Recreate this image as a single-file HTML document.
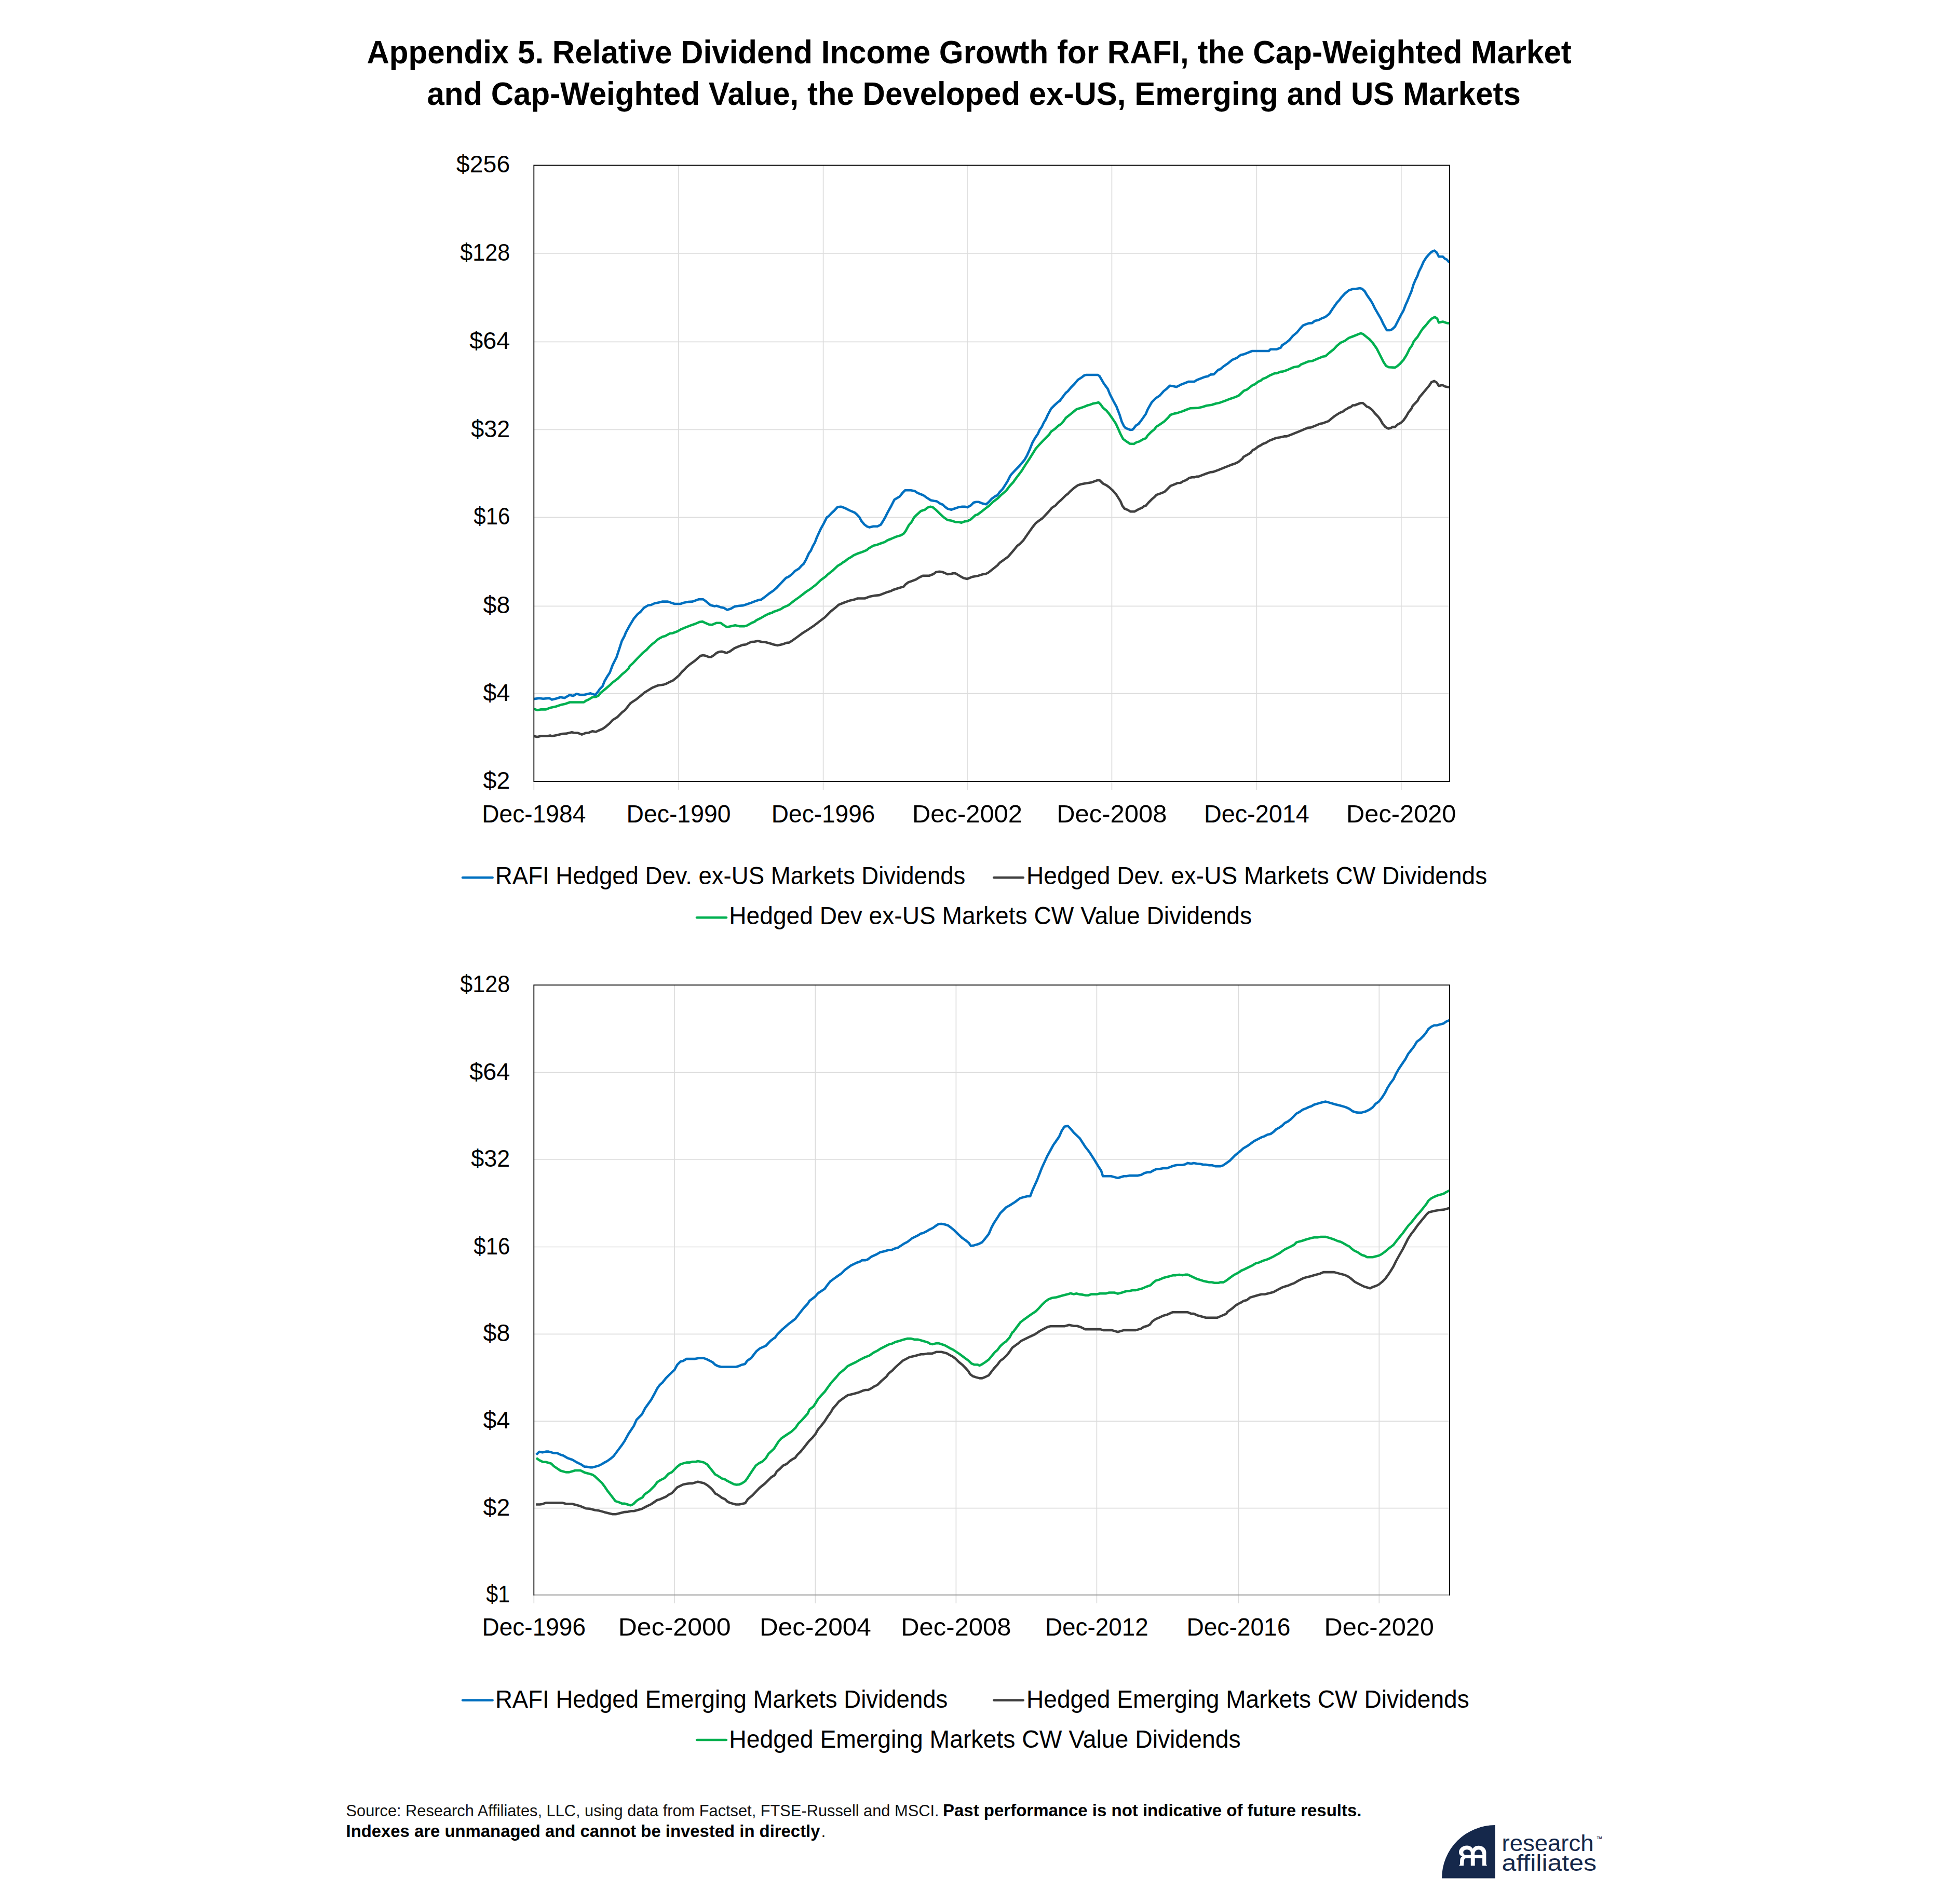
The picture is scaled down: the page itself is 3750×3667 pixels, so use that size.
<!DOCTYPE html>
<html lang="en"><head><meta charset="utf-8"><title>Appendix 5. Relative Dividend Income Growth</title>
<style>
html,body{margin:0;padding:0;background:#fff;}
body{width:3750px;height:3667px;overflow:hidden;}
svg{display:block;font-family:'Liberation Sans', Arial, sans-serif;}
</style></head><body>
<svg width="3750" height="3667" viewBox="0 0 3750 3667">
<rect width="3750" height="3667" fill="#fff"/>
<g font-size="62.5" font-weight="bold" fill="#000">
<text x="706.4" y="122" textLength="2320.5" lengthAdjust="spacingAndGlyphs">Appendix 5. Relative Dividend Income Growth for RAFI, the Cap-Weighted Market</text>
<text x="822.4" y="201.5" textLength="2106.5" lengthAdjust="spacingAndGlyphs">and Cap-Weighted Value, the Developed ex-US, Emerging and US Markets</text>
</g>
<path d="M1028.3,488.0H2790.5M1028.3,658.3H2790.5M1028.3,827.5H2790.5M1028.3,996.3H2790.5M1028.3,1167.3H2790.5M1028.3,1335.6H2790.5M1028.3,1505V1521M1307.0,318.3V1521M1585.6,318.3V1521M1863.0,318.3V1521M2141.4,318.3V1521M2420.3,318.3V1521M2698.8,318.3V1521" stroke="#dcdcdc" stroke-width="1.7" fill="none"/>
<g fill="none" stroke-width="4.6" stroke-linejoin="round" stroke-linecap="butt">
<path d="M1028.5,1417.7 L1034.7,1419.3 L1041.1,1417.7 L1053.9,1417.7 L1059.6,1416.5 L1062.9,1417.7 L1071.9,1415.9 L1082.2,1413.4 L1089.9,1412.9 L1101.4,1410.3 L1105.3,1411.3 L1113.0,1411.6 L1120.7,1414.7 L1128.4,1411.6 L1133.5,1411.3 L1141.2,1408.2 L1147.7,1409.5 L1152.8,1407.0 L1160.5,1403.9 L1166.9,1399.3 L1174.6,1392.8 L1179.8,1386.9 L1188.8,1381.3 L1197.7,1372.3 L1204.2,1367.2 L1209.3,1360.7 L1214.4,1354.3 L1218.3,1351.7 L1226.0,1346.6 L1233.7,1340.2 L1241.4,1333.8 L1247.8,1329.9 L1256.8,1324.3 L1267.1,1320.2 L1278.6,1318.4 L1282.5,1317.1 L1290.2,1313.2 L1295.3,1311.2 L1303.0,1305.0 L1308.2,1300.4 L1313.3,1294.0 L1318.4,1289.3 L1322.3,1285.0 L1330.0,1278.6 L1339.0,1272.1 L1344.1,1267.5 L1349.3,1263.1 L1354.4,1261.9 L1359.5,1263.1 L1364.7,1265.2 L1369.8,1265.2 L1374.9,1261.9 L1380.1,1257.5 L1385.2,1255.4 L1390.3,1254.7 L1399.3,1257.5 L1405.8,1254.7 L1414.7,1248.3 L1422.4,1245.2 L1430.1,1242.1 L1436.6,1241.3 L1446.8,1236.2 L1453.3,1235.7 L1459.7,1234.4 L1467.4,1236.2 L1475.1,1237.0 L1487.9,1240.5 L1488.5,1241.1 L1497.5,1242.9 L1506.5,1241.1 L1515.5,1237.8 L1519.3,1237.8 L1525.8,1233.9 L1534.7,1227.5 L1545.0,1219.8 L1555.3,1213.4 L1566.8,1205.7 L1578.4,1196.7 L1588.7,1189.0 L1593.8,1183.8 L1600.2,1177.4 L1609.2,1170.2 L1615.6,1164.6 L1627.2,1160.0 L1637.5,1156.4 L1645.2,1154.8 L1651.6,1152.5 L1665.7,1152.5 L1676.0,1148.7 L1685.0,1147.1 L1694.0,1146.1 L1709.4,1140.2 L1715.8,1138.4 L1719.6,1136.3 L1731.2,1132.5 L1740.2,1129.9 L1744.0,1125.6 L1749.2,1121.7 L1756.9,1118.9 L1764.6,1115.8 L1771.0,1111.9 L1777.4,1108.9 L1790.3,1108.6 L1798.0,1105.5 L1803.1,1101.7 L1808.2,1100.9 L1813.4,1101.2 L1818.5,1103.0 L1824.9,1106.0 L1831.4,1105.5 L1835.2,1104.2 L1840.3,1104.2 L1848.0,1108.9 L1855.8,1113.2 L1862.7,1115.0 L1868.6,1112.7 L1873.7,1110.7 L1884.0,1108.9 L1893.0,1106.0 L1898.1,1105.5 L1903.3,1103.0 L1912.2,1096.0 L1921.2,1088.8 L1925.1,1084.2 L1932.8,1078.6 L1941.8,1072.1 L1953.9,1057.9 L1959.1,1051.4 L1964.2,1047.6 L1970.6,1041.2 L1979.6,1028.3 L1988.6,1015.5 L1995.0,1007.3 L2001.4,1002.6 L2007.9,998.0 L2018.1,987.2 L2025.8,978.2 L2033.5,973.1 L2037.4,968.5 L2042.5,964.1 L2052.8,953.8 L2056.7,951.3 L2060.5,946.9 L2068.2,940.2 L2075.9,934.6 L2082.3,932.5 L2087.5,931.5 L2102.9,928.9 L2113.1,925.1 L2117.8,924.8 L2124.7,931.5 L2131.1,934.6 L2136.3,938.4 L2142.7,944.1 L2150.4,953.1 L2158.1,965.4 L2161.9,974.4 L2165.8,979.5 L2172.2,982.1 L2177.3,985.2 L2185.1,985.2 L2194.0,980.3 L2199.2,978.2 L2204.3,974.4 L2206.9,973.9 L2212.0,968.0 L2218.4,961.6 L2223.6,957.2 L2227.4,953.1 L2233.8,950.8 L2242.8,947.4 L2248.0,942.3 L2254.4,935.9 L2262.1,932.8 L2268.5,930.2 L2273.7,930.0 L2278.8,926.9 L2285.2,924.3 L2290.3,920.5 L2295.5,919.2 L2300.6,919.2 L2304.5,917.9 L2308.3,917.9 L2316.0,914.8 L2323.7,912.0 L2331.4,909.4 L2336.6,908.9 L2346.8,905.1 L2359.7,899.9 L2371.2,895.3 L2378.9,892.7 L2385.4,889.6 L2393.1,883.2 L2394.9,879.9 L2403.9,875.0 L2409.1,871.7 L2412.9,866.6 L2416.8,865.3 L2423.2,860.1 L2428.3,857.6 L2432.2,855.0 L2437.3,853.2 L2445.0,848.6 L2457.9,843.5 L2465.6,842.2 L2473.3,840.4 L2478.4,840.4 L2488.7,836.3 L2504.1,830.1 L2519.5,823.7 L2524.6,823.4 L2532.3,820.3 L2542.6,816.0 L2547.7,815.2 L2559.3,810.8 L2564.4,806.2 L2570.9,801.1 L2579.8,795.4 L2587.5,792.1 L2590.1,789.5 L2595.2,787.0 L2597.8,784.9 L2601.7,783.9 L2605.5,780.5 L2609.4,780.5 L2617.1,777.5 L2620.9,776.2 L2624.8,776.2 L2628.6,779.3 L2632.5,783.1 L2636.3,784.4 L2642.8,789.5 L2647.9,795.9 L2654.3,802.4 L2658.2,807.5 L2663.3,816.5 L2668.4,822.4 L2674.1,825.5 L2678.7,824.2 L2682.6,822.1 L2686.9,822.4 L2691.6,817.8 L2698.0,814.4 L2703.1,809.6 L2708.2,802.4 L2712.6,794.7 L2718.5,787.0 L2721.1,781.3 L2730.1,772.1 L2733.9,765.1 L2741.6,756.1 L2748.0,748.4 L2753.2,742.0 L2757.0,736.1 L2762.2,733.8 L2767.3,736.9 L2771.2,743.3 L2776.3,742.0 L2778.9,742.0 L2784.0,744.6 L2791.7,745.9" stroke="#404040"/>
<path d="M1028.5,1365.4 L1034.7,1367.7 L1041.1,1366.4 L1051.4,1366.4 L1059.1,1363.3 L1070.6,1360.7 L1082.2,1356.9 L1087.3,1356.1 L1097.6,1352.5 L1124.6,1352.5 L1128.4,1349.7 L1133.5,1347.4 L1141.2,1342.8 L1147.7,1342.2 L1152.8,1339.7 L1156.7,1334.5 L1166.9,1326.1 L1174.6,1319.6 L1179.8,1314.5 L1190.0,1306.8 L1197.7,1299.1 L1205.4,1292.7 L1210.6,1287.5 L1213.1,1282.4 L1218.3,1278.0 L1228.6,1267.0 L1238.8,1256.7 L1245.2,1251.6 L1250.4,1245.9 L1256.8,1240.0 L1261.9,1236.2 L1265.8,1232.3 L1269.6,1229.8 L1276.1,1226.2 L1281.2,1225.1 L1290.2,1220.0 L1295.3,1219.5 L1304.3,1216.2 L1312.0,1211.8 L1319.7,1208.7 L1331.3,1204.1 L1339.0,1201.5 L1348.0,1197.7 L1353.1,1197.1 L1359.5,1200.2 L1365.9,1202.8 L1371.1,1203.3 L1380.1,1199.7 L1387.8,1199.7 L1394.2,1204.1 L1400.1,1207.7 L1408.3,1206.1 L1416.0,1204.3 L1423.7,1206.1 L1434.0,1206.1 L1439.1,1204.6 L1448.1,1199.5 L1453.3,1197.4 L1457.1,1194.3 L1464.8,1190.7 L1472.5,1186.1 L1480.2,1182.3 L1487.9,1179.7 L1488.5,1178.7 L1496.2,1176.1 L1503.9,1173.1 L1509.1,1169.7 L1518.1,1165.9 L1523.2,1162.0 L1529.6,1156.9 L1538.6,1150.5 L1546.3,1144.6 L1552.7,1139.7 L1561.7,1133.8 L1570.7,1126.8 L1581.0,1117.1 L1590.0,1110.7 L1593.8,1106.8 L1604.1,1098.6 L1613.1,1090.1 L1619.5,1086.3 L1624.6,1082.4 L1627.2,1081.1 L1633.6,1076.0 L1640.0,1072.4 L1643.9,1069.6 L1652.9,1065.7 L1660.6,1063.1 L1669.6,1059.3 L1673.4,1056.0 L1682.4,1050.8 L1687.5,1049.8 L1696.5,1046.5 L1704.2,1043.9 L1709.4,1040.5 L1717.1,1037.5 L1726.1,1033.6 L1735.1,1031.0 L1740.2,1028.0 L1744.0,1023.3 L1750.5,1011.3 L1755.6,1005.4 L1760.7,996.4 L1765.9,991.2 L1773.6,984.3 L1781.3,981.7 L1786.4,977.6 L1791.6,975.8 L1796.7,977.1 L1803.1,982.3 L1809.5,988.7 L1817.2,995.9 L1824.9,1001.5 L1832.6,1002.8 L1840.3,1005.4 L1846.8,1005.4 L1851.9,1006.7 L1858.3,1004.1 L1863.5,1003.6 L1869.9,1000.2 L1878.9,992.0 L1882.7,991.2 L1890.4,985.3 L1898.1,979.2 L1905.8,973.3 L1912.2,966.8 L1922.5,959.1 L1928.9,952.7 L1937.9,945.0 L1944.9,935.9 L1951.4,928.9 L1956.5,921.7 L1960.3,916.6 L1968.1,906.3 L1974.5,896.1 L1982.2,884.5 L1988.6,874.2 L1995.0,864.0 L2001.4,856.8 L2009.1,848.6 L2020.7,837.0 L2024.6,831.1 L2031.0,826.7 L2038.7,819.8 L2043.8,816.5 L2048.9,810.5 L2052.8,804.9 L2061.8,797.7 L2065.6,794.6 L2073.3,788.2 L2079.8,786.2 L2087.5,783.6 L2095.2,780.5 L2099.0,779.7 L2105.4,777.2 L2111.9,776.1 L2115.7,774.9 L2119.6,778.7 L2124.7,785.6 L2131.1,790.8 L2135.0,795.4 L2142.7,806.2 L2149.1,815.7 L2153.0,824.2 L2158.1,835.7 L2163.2,845.5 L2168.4,849.3 L2176.1,854.5 L2183.8,855.0 L2188.9,851.9 L2194.0,850.4 L2201.7,846.0 L2206.9,844.2 L2210.7,838.3 L2217.2,831.9 L2223.6,826.7 L2227.4,821.6 L2233.8,817.7 L2242.8,811.3 L2249.3,804.9 L2254.4,799.0 L2262.1,796.4 L2265.9,795.9 L2277.5,792.1 L2285.2,789.0 L2292.9,786.2 L2308.3,785.6 L2316.0,783.8 L2323.7,781.3 L2334.0,779.7 L2341.7,777.2 L2348.1,776.1 L2350.0,775.4 L2360.3,771.6 L2370.5,767.7 L2378.2,765.1 L2386.0,761.8 L2396.2,752.3 L2401.4,750.5 L2412.9,741.5 L2416.8,740.2 L2423.2,735.1 L2428.3,733.0 L2432.2,729.7 L2437.3,727.9 L2446.3,722.8 L2455.3,718.9 L2459.1,718.9 L2466.8,715.8 L2470.7,715.6 L2478.4,713.0 L2491.2,707.3 L2501.5,705.6 L2505.4,702.2 L2519.5,696.3 L2527.2,695.3 L2540.0,689.9 L2547.7,686.8 L2552.9,686.0 L2560.6,679.1 L2568.3,673.2 L2574.7,666.3 L2582.4,659.8 L2590.1,656.5 L2597.8,650.9 L2606.8,647.5 L2615.8,643.9 L2620.9,641.9 L2624.8,643.1 L2631.2,648.3 L2637.6,653.4 L2644.0,660.4 L2651.7,671.4 L2658.2,684.2 L2664.6,697.1 L2669.7,704.8 L2674.9,707.3 L2686.9,707.9 L2691.6,704.8 L2696.7,700.4 L2703.1,693.2 L2709.5,683.0 L2714.7,672.2 L2719.8,665.0 L2722.4,658.6 L2726.2,653.4 L2730.1,649.1 L2735.2,640.6 L2740.3,632.9 L2746.8,625.9 L2751.9,619.5 L2757.0,614.1 L2763.5,610.5 L2768.1,613.6 L2771.2,621.3 L2778.9,619.5 L2786.6,622.1 L2791.7,622.6" stroke="#00b050"/>
<path d="M1028.5,1346.1 L1038.5,1344.8 L1046.2,1345.8 L1057.8,1344.6 L1062.9,1347.4 L1071.9,1345.3 L1079.6,1342.8 L1087.3,1344.3 L1097.1,1338.6 L1104.0,1340.2 L1110.4,1336.3 L1118.1,1338.4 L1125.8,1338.1 L1137.4,1335.3 L1146.4,1338.4 L1151.5,1332.5 L1155.4,1326.8 L1160.5,1321.7 L1164.4,1311.9 L1169.5,1303.0 L1174.6,1295.2 L1179.8,1281.1 L1187.5,1265.7 L1192.6,1250.3 L1197.7,1234.4 L1202.9,1224.6 L1205.4,1218.2 L1213.1,1204.1 L1220.9,1191.2 L1228.6,1182.3 L1233.7,1178.4 L1240.1,1170.7 L1247.8,1166.1 L1254.2,1165.0 L1260.7,1162.0 L1268.4,1160.4 L1276.1,1158.6 L1286.3,1158.6 L1292.8,1160.9 L1299.2,1163.0 L1310.7,1163.0 L1318.4,1160.4 L1326.1,1159.1 L1333.8,1158.6 L1345.4,1154.3 L1354.4,1154.3 L1359.5,1157.9 L1368.5,1165.6 L1376.2,1167.6 L1380.1,1166.8 L1387.8,1169.4 L1394.2,1170.7 L1400.6,1174.6 L1408.3,1172.0 L1414.7,1168.1 L1423.7,1166.8 L1431.4,1166.1 L1439.1,1163.5 L1446.8,1160.9 L1454.5,1157.9 L1462.2,1155.3 L1466.1,1154.8 L1472.5,1150.2 L1481.5,1143.0 L1490.5,1136.8 L1496.2,1131.7 L1505.2,1122.2 L1514.2,1112.7 L1518.1,1111.4 L1525.8,1105.5 L1530.9,1099.9 L1538.6,1095.2 L1543.7,1089.6 L1547.6,1086.3 L1552.7,1077.3 L1557.9,1065.7 L1561.7,1060.6 L1565.6,1051.6 L1569.4,1045.2 L1573.3,1034.9 L1581.0,1018.2 L1586.1,1009.2 L1592.5,996.4 L1596.4,993.8 L1601.5,988.2 L1606.7,983.5 L1613.1,976.6 L1619.5,975.8 L1627.2,978.4 L1636.2,983.0 L1646.5,987.4 L1650.3,990.7 L1655.4,996.4 L1659.3,1003.6 L1664.4,1009.7 L1669.6,1013.8 L1674.7,1015.6 L1682.4,1013.8 L1690.1,1013.8 L1696.5,1010.5 L1704.2,997.7 L1709.4,987.4 L1717.1,973.3 L1722.7,962.2 L1732.5,956.6 L1737.6,950.2 L1743.3,944.2 L1754.3,944.2 L1762.0,945.8 L1767.2,949.4 L1778.7,954.0 L1785.1,958.6 L1792.8,963.5 L1799.3,964.8 L1804.4,965.6 L1810.8,969.9 L1815.9,972.0 L1819.8,975.8 L1824.9,979.7 L1832.6,981.7 L1837.8,979.7 L1845.5,977.1 L1853.2,975.8 L1858.3,975.8 L1863.5,977.1 L1869.9,973.3 L1875.0,968.1 L1880.1,966.8 L1885.3,966.8 L1891.7,969.4 L1899.4,971.2 L1904.5,966.8 L1909.7,960.9 L1917.4,955.3 L1921.2,954.0 L1925.1,948.1 L1931.5,941.2 L1940.5,927.0 L1945.6,916.8 L1947.5,914.0 L1955.2,905.8 L1962.9,897.9 L1968.1,891.7 L1973.2,885.8 L1978.3,876.8 L1983.5,865.2 L1988.6,852.4 L1993.7,843.4 L1998.9,835.7 L2002.7,827.5 L2006.6,822.1 L2010.4,813.9 L2014.3,807.5 L2018.1,799.0 L2024.6,786.9 L2031.0,780.5 L2037.4,774.6 L2041.2,772.0 L2047.7,763.3 L2052.8,756.6 L2056.7,753.5 L2063.1,745.8 L2069.5,739.4 L2075.9,731.7 L2083.6,726.6 L2088.8,722.7 L2092.6,722.0 L2114.4,722.0 L2117.8,724.5 L2126.0,738.6 L2133.7,749.2 L2137.5,758.7 L2144.0,771.5 L2150.4,783.1 L2156.8,799.8 L2160.7,812.6 L2164.5,820.3 L2167.1,823.6 L2172.2,826.2 L2177.3,828.0 L2181.2,827.5 L2183.8,824.9 L2187.6,819.8 L2192.8,816.5 L2197.9,810.0 L2206.9,797.2 L2210.7,788.2 L2218.4,774.6 L2226.1,766.9 L2233.8,761.8 L2241.6,753.0 L2246.7,749.2 L2253.1,742.8 L2259.5,743.8 L2265.9,745.3 L2273.7,741.2 L2282.6,737.6 L2289.1,735.0 L2300.6,735.0 L2304.5,732.2 L2312.2,729.1 L2319.9,726.1 L2326.3,724.8 L2331.4,721.4 L2337.9,720.9 L2346.8,711.9 L2350.0,711.2 L2357.7,704.8 L2365.4,699.6 L2373.1,693.2 L2382.1,689.4 L2389.8,683.5 L2396.2,682.2 L2403.9,679.1 L2411.6,676.0 L2443.7,676.0 L2447.1,672.7 L2459.1,672.7 L2466.8,669.6 L2469.4,665.0 L2478.4,659.1 L2483.5,654.7 L2490.0,647.0 L2497.7,640.6 L2504.1,632.9 L2509.2,627.2 L2515.6,624.4 L2520.8,622.6 L2527.2,622.1 L2532.3,618.0 L2540.0,616.2 L2546.5,612.8 L2552.9,610.3 L2560.1,604.6 L2568.3,592.3 L2574.7,583.3 L2579.8,577.7 L2583.7,572.5 L2590.1,565.6 L2597.8,559.2 L2605.5,556.6 L2611.9,556.3 L2619.6,555.1 L2623.5,556.3 L2628.6,561.0 L2632.5,567.9 L2640.2,578.9 L2644.0,585.4 L2647.9,593.6 L2654.3,604.6 L2659.5,613.6 L2664.6,624.4 L2671.0,636.0 L2677.4,636.0 L2681.3,634.2 L2686.9,629.0 L2692.8,617.5 L2698.0,607.2 L2703.1,598.2 L2707.0,587.9 L2710.8,579.5 L2714.7,570.0 L2718.5,561.0 L2722.4,548.1 L2726.2,539.1 L2730.1,531.4 L2732.6,523.7 L2737.8,513.5 L2741.6,504.5 L2746.8,496.3 L2751.9,490.3 L2757.0,485.2 L2762.9,482.6 L2767.3,486.5 L2771.2,494.2 L2778.9,494.2 L2782.7,498.1 L2786.6,499.9 L2791.7,505.8" stroke="#0070c0"/>
</g>
<rect x="1028.3" y="318.3" width="1763.7" height="1186.7" stroke="#000" stroke-width="1.8" fill="none"/>
<g font-size="46.5" text-anchor="end" fill="#000">
<text x="982.3" y="332.3">$256</text>
<text x="982.3" y="502.0" textLength="96" lengthAdjust="spacingAndGlyphs">$128</text>
<text x="982.3" y="672.3" textLength="78" lengthAdjust="spacingAndGlyphs">$64</text>
<text x="982.3" y="841.5" textLength="75" lengthAdjust="spacingAndGlyphs">$32</text>
<text x="982.3" y="1010.3" textLength="70" lengthAdjust="spacingAndGlyphs">$16</text>
<text x="982.3" y="1181.3">$8</text>
<text x="982.3" y="1349.6">$4</text>
<text x="982.3" y="1519.0">$2</text>
</g>
<g font-size="47.5" text-anchor="middle" fill="#000">
<text x="1028.3" y="1583.7" textLength="200" lengthAdjust="spacingAndGlyphs">Dec-1984</text>
<text x="1307.0" y="1583.7" textLength="201" lengthAdjust="spacingAndGlyphs">Dec-1990</text>
<text x="1585.6" y="1583.7" textLength="199.5" lengthAdjust="spacingAndGlyphs">Dec-1996</text>
<text x="1863.0" y="1583.7" textLength="212" lengthAdjust="spacingAndGlyphs">Dec-2002</text>
<text x="2141.4" y="1583.7" textLength="212.3" lengthAdjust="spacingAndGlyphs">Dec-2008</text>
<text x="2420.3" y="1583.7" textLength="202.8" lengthAdjust="spacingAndGlyphs">Dec-2014</text>
<text x="2698.8" y="1583.7" textLength="211.4" lengthAdjust="spacingAndGlyphs">Dec-2020</text>
</g>
<path d="M891.1,1690.2H948.6" stroke="#0070c0" stroke-width="4.6" stroke-linecap="round" fill="none"/>
<text x="953.9" y="1703.2" font-size="47.3" textLength="905.5" lengthAdjust="spacingAndGlyphs" fill="#000">RAFI Hedged Dev. ex-US Markets Dividends</text>
<path d="M1914.3,1690.2H1970.7" stroke="#404040" stroke-width="4.6" stroke-linecap="round" fill="none"/>
<text x="1977.1" y="1703.2" font-size="47.3" textLength="887.1" lengthAdjust="spacingAndGlyphs" fill="#000">Hedged Dev. ex-US Markets CW Dividends</text>
<path d="M1342.1,1767.3H1398.9" stroke="#00b050" stroke-width="4.6" stroke-linecap="round" fill="none"/>
<text x="1404.3" y="1780.4" font-size="47.3" textLength="1006.8" lengthAdjust="spacingAndGlyphs" fill="#000">Hedged Dev ex-US Markets CW Value Dividends</text>
<path d="M1028.3,2065.5H2790.5M1028.3,2233.0H2790.5M1028.3,2401.5H2790.5M1028.3,2569.3H2790.5M1028.3,2737.2H2790.5M1028.3,2904.6H2790.5M1028.3,3071.8V3087.8M1299.2,1897.1V3087.8M1570.4,1897.1V3087.8M1841.4,1897.1V3087.8M2112.4,1897.1V3087.8M2385.4,1897.1V3087.8M2656.3,1897.1V3087.8" stroke="#dcdcdc" stroke-width="1.7" fill="none"/>
<g fill="none" stroke-width="4.6" stroke-linejoin="round" stroke-linecap="butt">
<path d="M1032.1,2897.5 L1039.8,2897.5 L1044.9,2896.7 L1051.4,2894.4 L1083.5,2894.4 L1089.9,2896.2 L1101.4,2896.2 L1118.1,2900.8 L1128.4,2905.2 L1136.1,2905.7 L1146.4,2908.5 L1152.8,2909.1 L1164.4,2912.4 L1179.8,2916.3 L1186.2,2916.3 L1202.9,2912.1 L1209.3,2911.6 L1215.7,2910.3 L1220.9,2910.3 L1236.3,2906.0 L1244.0,2901.9 L1254.2,2897.0 L1265.8,2889.0 L1270.9,2887.7 L1282.5,2882.6 L1288.9,2878.2 L1294.0,2875.7 L1304.3,2864.6 L1315.9,2859.0 L1322.3,2857.7 L1328.7,2856.9 L1333.8,2856.9 L1344.1,2853.8 L1355.7,2856.4 L1362.1,2860.3 L1368.5,2865.4 L1372.4,2869.3 L1377.5,2876.4 L1382.6,2879.0 L1390.3,2884.7 L1396.8,2887.7 L1400.6,2891.6 L1405.8,2894.4 L1417.3,2897.5 L1423.7,2897.5 L1435.3,2894.9 L1440.4,2887.2 L1449.2,2880.0 L1462.6,2865.9 L1473.9,2856.6 L1485.2,2845.3 L1492.4,2840.7 L1496.0,2834.0 L1501.6,2829.4 L1508.3,2822.7 L1515.0,2819.6 L1521.2,2814.0 L1526.3,2810.4 L1531.4,2807.8 L1535.5,2802.2 L1542.7,2795.0 L1550.9,2784.7 L1558.1,2775.5 L1565.3,2768.3 L1570.5,2762.1 L1575.6,2752.9 L1581.8,2745.7 L1587.9,2738.0 L1594.1,2728.2 L1600.2,2720.0 L1604.1,2712.9 L1610.5,2705.8 L1615.6,2699.3 L1623.3,2693.7 L1632.3,2687.3 L1643.9,2684.4 L1652.9,2682.1 L1661.9,2678.3 L1667.0,2677.0 L1672.1,2677.0 L1677.3,2674.4 L1683.7,2670.3 L1690.1,2667.2 L1697.8,2659.5 L1706.8,2651.8 L1711.9,2644.9 L1718.4,2639.8 L1724.8,2633.1 L1731.2,2627.4 L1738.9,2620.5 L1745.3,2617.2 L1751.7,2613.8 L1762.0,2611.5 L1773.6,2608.2 L1778.7,2608.2 L1786.4,2606.9 L1795.4,2606.9 L1803.1,2603.8 L1813.4,2603.8 L1823.7,2606.4 L1830.1,2610.2 L1835.2,2612.8 L1840.3,2616.6 L1846.8,2623.1 L1853.2,2628.2 L1859.6,2634.6 L1864.7,2640.3 L1868.6,2646.7 L1873.7,2650.5 L1880.1,2652.6 L1886.6,2654.4 L1891.7,2654.4 L1898.1,2651.8 L1904.5,2648.7 L1909.7,2641.6 L1914.8,2635.1 L1921.2,2628.2 L1926.4,2621.0 L1932.8,2616.4 L1939.2,2610.2 L1944.4,2603.5 L1950.0,2595.3 L1951.4,2594.3 L1960.3,2587.9 L1966.8,2582.5 L1975.8,2578.1 L1984.7,2573.8 L1993.7,2569.7 L2002.7,2563.5 L2010.4,2559.4 L2018.1,2555.5 L2023.3,2554.2 L2050.2,2554.2 L2059.2,2551.7 L2068.2,2553.7 L2074.6,2553.7 L2082.3,2556.3 L2090.0,2560.1 L2119.6,2560.1 L2124.7,2561.9 L2141.4,2561.9 L2153.0,2565.3 L2164.5,2561.9 L2187.6,2561.9 L2197.9,2558.9 L2203.0,2555.5 L2209.5,2553.7 L2214.6,2551.2 L2219.7,2544.7 L2226.1,2540.4 L2232.6,2537.6 L2240.3,2534.0 L2248.0,2531.9 L2258.2,2527.3 L2287.8,2527.3 L2294.2,2530.1 L2299.3,2530.1 L2305.8,2533.2 L2313.5,2535.2 L2322.4,2537.8 L2344.3,2537.8 L2352.0,2534.5 L2358.4,2531.9 L2362.2,2529.8 L2364.1,2526.6 L2373.1,2520.2 L2379.5,2514.5 L2384.7,2511.2 L2391.1,2508.1 L2394.9,2505.6 L2401.4,2504.0 L2407.8,2498.9 L2416.8,2496.3 L2424.5,2494.0 L2429.6,2492.7 L2436.0,2492.7 L2452.7,2488.6 L2460.4,2484.2 L2469.4,2479.6 L2474.6,2477.8 L2481.0,2476.0 L2487.4,2473.2 L2492.5,2471.4 L2500.2,2466.8 L2510.5,2461.6 L2516.9,2459.8 L2524.6,2458.0 L2531.0,2456.0 L2542.6,2452.9 L2549.0,2450.1 L2569.6,2450.1 L2579.8,2452.9 L2590.1,2455.5 L2595.2,2457.8 L2600.4,2461.1 L2604.2,2464.2 L2609.4,2468.8 L2617.1,2472.7 L2623.5,2476.0 L2628.6,2478.3 L2638.9,2481.2 L2644.0,2478.6 L2650.5,2476.5 L2655.6,2474.0 L2662.0,2468.8 L2668.4,2462.4 L2673.6,2455.2 L2678.7,2447.5 L2683.8,2439.3 L2689.0,2428.5 L2695.4,2417.0 L2701.8,2405.9 L2707.0,2395.6 L2712.1,2385.4 L2717.2,2377.7 L2723.7,2369.4 L2730.1,2360.2 L2737.8,2350.7 L2744.2,2343.0 L2748.0,2338.4 L2751.9,2334.8 L2763.5,2332.0 L2773.7,2330.2 L2781.4,2329.6 L2786.6,2328.1 L2791.7,2326.8" stroke="#404040"/>
<path d="M1032.9,2808.1 L1038.5,2812.2 L1046.2,2815.8 L1051.4,2815.8 L1061.6,2818.7 L1066.8,2823.8 L1079.6,2832.5 L1089.9,2835.4 L1096.3,2835.4 L1107.9,2832.0 L1118.1,2832.0 L1125.8,2835.9 L1133.5,2837.9 L1141.2,2840.2 L1145.1,2842.8 L1151.5,2848.7 L1159.2,2855.9 L1164.4,2862.8 L1169.5,2870.5 L1177.2,2880.3 L1185.4,2891.1 L1191.3,2892.9 L1197.7,2895.7 L1202.9,2895.7 L1214.4,2899.3 L1219.6,2897.0 L1226.0,2890.6 L1231.1,2887.2 L1237.5,2883.9 L1241.4,2878.2 L1250.4,2871.8 L1260.7,2861.6 L1265.8,2854.6 L1272.2,2850.5 L1279.9,2846.7 L1287.6,2838.4 L1294.0,2835.4 L1299.2,2830.0 L1304.3,2824.8 L1310.7,2819.9 L1322.3,2816.6 L1328.7,2816.6 L1333.8,2815.3 L1340.3,2815.3 L1344.1,2814.0 L1355.7,2816.6 L1362.1,2820.5 L1369.8,2830.0 L1377.5,2839.7 L1382.6,2842.3 L1390.3,2847.4 L1395.5,2848.7 L1400.6,2852.0 L1408.3,2855.9 L1413.5,2858.5 L1418.6,2859.5 L1423.7,2859.0 L1428.9,2856.9 L1435.3,2852.6 L1440.4,2845.6 L1448.1,2833.8 L1455.8,2822.5 L1462.2,2817.9 L1468.7,2814.6 L1475.1,2808.4 L1480.2,2799.9 L1490.5,2790.4 L1500.0,2775.5 L1505.2,2770.0 L1515.5,2763.0 L1524.5,2757.1 L1532.2,2749.9 L1537.3,2742.2 L1543.7,2735.8 L1548.9,2730.1 L1555.8,2722.4 L1559.1,2714.7 L1566.8,2708.8 L1570.7,2702.7 L1575.8,2694.2 L1581.0,2688.3 L1588.7,2680.1 L1593.8,2672.9 L1598.9,2665.9 L1604.1,2659.5 L1610.5,2652.6 L1616.9,2644.9 L1622.1,2640.8 L1627.2,2636.4 L1632.3,2631.3 L1640.0,2627.4 L1649.0,2623.1 L1655.4,2619.2 L1665.7,2614.1 L1674.7,2610.7 L1682.4,2605.1 L1690.1,2601.2 L1695.2,2597.9 L1711.9,2589.4 L1718.4,2587.6 L1724.8,2584.5 L1732.5,2582.5 L1740.2,2579.9 L1747.9,2578.1 L1754.3,2578.1 L1762.0,2579.9 L1768.4,2579.9 L1777.4,2582.5 L1786.4,2585.1 L1791.6,2588.1 L1796.7,2588.9 L1803.1,2587.1 L1808.2,2587.1 L1819.8,2591.0 L1828.8,2596.1 L1835.2,2599.2 L1848.0,2607.7 L1858.3,2615.4 L1866.0,2621.0 L1871.2,2626.1 L1876.3,2628.2 L1882.7,2628.2 L1886.6,2630.0 L1891.7,2627.4 L1898.1,2623.1 L1904.5,2618.4 L1909.7,2612.0 L1916.1,2604.3 L1921.2,2599.9 L1926.4,2592.8 L1932.8,2586.9 L1937.9,2583.3 L1944.4,2576.1 L1950.0,2565.8 L1951.4,2565.3 L1959.1,2555.0 L1965.5,2546.5 L1971.9,2541.7 L1984.7,2532.4 L1995.0,2525.5 L2001.4,2519.1 L2006.6,2513.2 L2013.0,2507.0 L2019.4,2502.4 L2025.8,2499.8 L2034.8,2498.5 L2047.7,2494.7 L2056.7,2492.6 L2061.8,2490.8 L2068.2,2492.6 L2073.3,2491.3 L2079.8,2492.9 L2084.9,2493.4 L2091.3,2494.7 L2096.5,2494.7 L2101.6,2492.6 L2113.1,2492.6 L2118.3,2491.3 L2129.8,2491.3 L2136.3,2489.5 L2146.5,2489.5 L2153.0,2491.6 L2160.7,2489.5 L2168.4,2487.0 L2174.8,2486.4 L2181.2,2484.9 L2187.6,2484.9 L2199.2,2481.8 L2208.2,2478.0 L2215.9,2475.4 L2221.0,2470.3 L2226.1,2466.4 L2232.6,2464.6 L2240.3,2461.3 L2246.7,2459.5 L2253.1,2457.9 L2259.5,2456.1 L2264.7,2456.1 L2271.1,2454.9 L2277.5,2456.1 L2282.6,2454.9 L2287.8,2454.9 L2296.8,2459.2 L2305.8,2463.3 L2317.3,2466.9 L2328.9,2469.5 L2334.0,2469.5 L2339.1,2470.8 L2346.8,2470.8 L2350.0,2469.6 L2356.4,2469.6 L2362.8,2465.7 L2370.5,2459.8 L2377.0,2455.2 L2384.7,2451.4 L2391.1,2447.0 L2396.2,2444.9 L2403.9,2441.1 L2412.9,2436.7 L2418.1,2433.4 L2424.5,2431.6 L2432.2,2428.3 L2439.9,2425.9 L2446.3,2423.1 L2452.7,2420.0 L2457.9,2417.0 L2464.3,2413.6 L2469.4,2409.8 L2474.6,2406.4 L2481.0,2403.3 L2486.1,2400.8 L2492.5,2397.4 L2497.1,2392.6 L2507.9,2389.7 L2516.9,2386.7 L2527.2,2384.1 L2531.0,2383.3 L2537.5,2383.3 L2543.9,2382.0 L2552.9,2382.0 L2560.6,2384.1 L2568.3,2386.7 L2576.0,2390.0 L2582.4,2391.8 L2587.5,2394.4 L2594.0,2398.2 L2599.1,2400.8 L2603.0,2404.6 L2608.1,2408.5 L2615.8,2412.3 L2622.2,2416.7 L2628.6,2418.8 L2633.0,2421.3 L2644.0,2421.3 L2650.5,2419.5 L2655.6,2418.2 L2660.7,2415.7 L2667.2,2411.0 L2673.6,2405.4 L2678.7,2401.5 L2683.8,2397.7 L2690.3,2389.2 L2695.4,2382.8 L2701.8,2375.1 L2707.0,2367.9 L2712.1,2361.0 L2718.5,2354.0 L2723.7,2347.6 L2728.8,2340.9 L2735.2,2334.0 L2740.3,2327.6 L2746.8,2319.4 L2751.4,2312.2 L2757.0,2307.8 L2763.5,2304.5 L2769.9,2301.9 L2780.1,2299.3 L2785.3,2296.0 L2791.7,2292.9" stroke="#00b050"/>
<path d="M1032.9,2801.7 L1038.5,2796.1 L1044.9,2797.3 L1051.4,2795.6 L1056.5,2795.6 L1066.8,2798.6 L1073.2,2798.6 L1079.6,2801.7 L1084.7,2803.3 L1093.7,2808.4 L1102.7,2811.5 L1110.4,2816.1 L1119.4,2820.5 L1125.8,2824.8 L1129.7,2824.8 L1136.1,2826.1 L1141.2,2826.1 L1152.8,2823.0 L1157.9,2820.5 L1163.1,2817.4 L1169.5,2814.0 L1175.9,2809.4 L1181.8,2804.5 L1190.0,2793.5 L1197.7,2783.2 L1202.9,2775.5 L1210.6,2761.4 L1220.9,2746.0 L1226.0,2734.4 L1236.3,2724.2 L1242.7,2711.8 L1254.2,2695.9 L1261.9,2681.8 L1265.8,2674.1 L1270.9,2667.1 L1276.1,2662.5 L1282.5,2654.3 L1290.2,2646.6 L1299.2,2638.1 L1304.3,2628.6 L1310.7,2622.2 L1315.9,2620.9 L1322.3,2617.1 L1339.0,2617.1 L1345.4,2615.8 L1355.7,2615.8 L1360.8,2617.6 L1372.4,2623.5 L1377.5,2628.4 L1382.6,2630.9 L1389.1,2632.5 L1417.3,2632.5 L1422.4,2631.2 L1428.9,2628.4 L1434.8,2627.1 L1439.1,2620.9 L1446.8,2615.5 L1457.1,2602.2 L1463.5,2597.0 L1475.1,2591.9 L1484.1,2582.4 L1491.8,2576.5 L1492.4,2576.6 L1497.5,2569.6 L1507.8,2559.4 L1519.3,2549.6 L1531.7,2540.1 L1538.6,2531.1 L1547.6,2519.6 L1555.3,2511.4 L1559.1,2505.4 L1569.4,2497.7 L1575.8,2490.5 L1588.2,2482.3 L1593.8,2474.6 L1598.9,2468.2 L1609.2,2460.5 L1620.8,2452.3 L1627.2,2445.9 L1638.8,2437.4 L1650.3,2431.7 L1655.4,2430.2 L1660.6,2427.1 L1667.0,2427.1 L1670.9,2425.8 L1678.6,2420.2 L1688.8,2415.6 L1695.2,2411.7 L1704.2,2409.7 L1711.9,2407.3 L1717.1,2407.3 L1723.5,2404.5 L1729.9,2402.7 L1740.2,2395.8 L1747.9,2391.7 L1756.9,2384.7 L1768.4,2379.1 L1773.6,2375.8 L1777.4,2375.0 L1783.8,2371.9 L1790.3,2368.1 L1796.7,2365.0 L1803.1,2360.3 L1808.2,2357.3 L1813.4,2357.0 L1819.8,2358.3 L1826.2,2360.3 L1831.4,2364.2 L1837.8,2369.3 L1845.5,2377.0 L1853.2,2384.2 L1859.6,2388.6 L1866.0,2393.7 L1869.9,2399.6 L1876.3,2398.4 L1885.3,2395.8 L1891.7,2392.4 L1898.1,2384.7 L1904.5,2376.5 L1909.7,2364.2 L1914.8,2354.7 L1922.5,2342.9 L1926.4,2336.7 L1932.8,2330.3 L1937.9,2325.2 L1944.4,2321.8 L1955.2,2314.9 L1964.2,2308.0 L1970.6,2305.9 L1978.3,2303.9 L1984.2,2303.9 L1988.6,2292.3 L1997.6,2272.5 L2006.6,2249.4 L2016.8,2227.1 L2028.4,2205.8 L2040.0,2189.1 L2045.1,2177.5 L2050.2,2169.8 L2056.7,2168.5 L2061.8,2173.7 L2068.2,2181.4 L2079.8,2192.4 L2090.0,2208.3 L2097.7,2218.1 L2108.0,2234.0 L2115.7,2246.8 L2120.9,2254.6 L2124.2,2265.3 L2140.1,2265.3 L2147.8,2267.4 L2153.0,2268.7 L2164.5,2265.3 L2169.6,2265.3 L2176.1,2264.1 L2191.5,2264.1 L2197.9,2262.8 L2204.3,2259.2 L2210.7,2257.6 L2215.9,2257.6 L2221.0,2254.6 L2226.1,2252.0 L2232.6,2251.5 L2240.3,2249.9 L2248.0,2249.9 L2255.7,2246.8 L2262.1,2244.8 L2267.2,2243.8 L2277.5,2243.8 L2282.6,2242.5 L2287.8,2239.9 L2294.2,2241.2 L2299.3,2239.9 L2305.8,2241.2 L2312.2,2241.7 L2317.3,2243.0 L2322.4,2243.0 L2328.9,2244.3 L2335.3,2244.3 L2340.4,2246.1 L2350.7,2246.1 L2355.8,2244.3 L2361.0,2240.9 L2368.7,2235.3 L2378.9,2225.0 L2389.8,2216.1 L2394.9,2211.4 L2402.6,2207.1 L2415.5,2197.6 L2423.2,2193.7 L2429.6,2190.4 L2434.7,2188.6 L2441.2,2185.2 L2447.1,2184.0 L2452.7,2180.1 L2457.9,2175.0 L2464.3,2171.6 L2469.4,2168.0 L2474.6,2162.9 L2481.0,2159.6 L2486.1,2155.7 L2491.2,2150.6 L2496.9,2144.7 L2502.8,2141.6 L2509.2,2137.2 L2514.4,2135.2 L2520.8,2132.1 L2525.9,2130.5 L2531.0,2127.5 L2540.0,2124.9 L2547.7,2122.8 L2553.4,2121.6 L2560.6,2123.6 L2570.9,2126.7 L2581.1,2129.3 L2591.4,2132.1 L2599.1,2135.7 L2605.5,2140.3 L2611.9,2142.4 L2617.1,2142.9 L2622.2,2142.9 L2629.9,2140.8 L2637.6,2137.2 L2644.0,2132.6 L2649.2,2126.2 L2655.6,2121.6 L2660.7,2115.4 L2667.2,2105.6 L2672.3,2095.4 L2677.4,2087.1 L2683.8,2078.7 L2689.0,2067.6 L2694.1,2058.6 L2700.5,2049.1 L2707.0,2039.6 L2712.1,2029.9 L2717.2,2023.5 L2723.7,2015.2 L2728.8,2006.3 L2735.2,2001.6 L2741.6,1995.2 L2746.8,1988.8 L2751.4,1981.6 L2757.0,1977.2 L2762.2,1974.7 L2767.3,1974.7 L2773.7,1972.9 L2780.1,1971.3 L2785.3,1967.7 L2791.7,1964.9" stroke="#0070c0"/>
</g>
<path d="M1028.3,3071.8H2792" stroke="#9a9a9a" stroke-width="2" fill="none"/>
<path d="M1028.3,3072.8V1897.1H2792V3072.8" stroke="#000" stroke-width="1.8" fill="none"/>
<g font-size="46.5" text-anchor="end" fill="#000">
<text x="982.3" y="1911.1" textLength="96" lengthAdjust="spacingAndGlyphs">$128</text>
<text x="982.3" y="2079.5" textLength="78" lengthAdjust="spacingAndGlyphs">$64</text>
<text x="982.3" y="2247.0" textLength="75" lengthAdjust="spacingAndGlyphs">$32</text>
<text x="982.3" y="2415.5" textLength="70" lengthAdjust="spacingAndGlyphs">$16</text>
<text x="982.3" y="2583.3">$8</text>
<text x="982.3" y="2751.2">$4</text>
<text x="982.3" y="2918.6">$2</text>
<text x="982.3" y="3085.8" textLength="46" lengthAdjust="spacingAndGlyphs">$1</text>
</g>
<g font-size="47.5" text-anchor="middle" fill="#000">
<text x="1028.3" y="3150.4" textLength="199.5" lengthAdjust="spacingAndGlyphs">Dec-1996</text>
<text x="1299.2" y="3150.4" textLength="217" lengthAdjust="spacingAndGlyphs">Dec-2000</text>
<text x="1570.4" y="3150.4" textLength="215" lengthAdjust="spacingAndGlyphs">Dec-2004</text>
<text x="1841.4" y="3150.4" textLength="212.3" lengthAdjust="spacingAndGlyphs">Dec-2008</text>
<text x="2112.4" y="3150.4" textLength="198.8" lengthAdjust="spacingAndGlyphs">Dec-2012</text>
<text x="2385.4" y="3150.4" textLength="200" lengthAdjust="spacingAndGlyphs">Dec-2016</text>
<text x="2656.3" y="3150.4" textLength="211.4" lengthAdjust="spacingAndGlyphs">Dec-2020</text>
</g>
<path d="M891.1,3274.5H948.6" stroke="#0070c0" stroke-width="4.6" stroke-linecap="round" fill="none"/>
<text x="953.9" y="3288.6" font-size="47.3" textLength="871.5" lengthAdjust="spacingAndGlyphs" fill="#000">RAFI Hedged Emerging Markets Dividends</text>
<path d="M1914.3,3274.5H1970.7" stroke="#404040" stroke-width="4.6" stroke-linecap="round" fill="none"/>
<text x="1977.1" y="3288.6" font-size="47.3" textLength="852.6" lengthAdjust="spacingAndGlyphs" fill="#000">Hedged Emerging Markets CW Dividends</text>
<path d="M1342.1,3351H1398.9" stroke="#00b050" stroke-width="4.6" stroke-linecap="round" fill="none"/>
<text x="1404.3" y="3365.8" font-size="47.3" textLength="985.3" lengthAdjust="spacingAndGlyphs" fill="#000">Hedged Emerging Markets CW Value Dividends</text>
<text y="3497.9" font-size="32" fill="#111"><tspan x="666.5" textLength="1142" lengthAdjust="spacingAndGlyphs">Source: Research Affiliates, LLC, using data from Factset, FTSE-Russell and MSCI.</tspan> <tspan x="1816" font-size="33" font-weight="bold" fill="#000" textLength="806.5" lengthAdjust="spacingAndGlyphs">Past performance is not indicative of future results.</tspan></text>
<text y="3538.2" font-size="32" fill="#111"><tspan x="666.5" font-size="33" font-weight="bold" fill="#000" textLength="913" lengthAdjust="spacingAndGlyphs">Indexes are unmanaged and cannot be invested in directly</tspan><tspan x="1581.5">.</tspan></text>
<path d="M2879.7,3515.1V3617.4H2777A102.7,102.3 0 0 1 2879.7,3515.1Z" fill="#15284b"/>
<g transform="translate(2795,3545) scale(0.041085)"><path fill="#fff" fill-rule="evenodd" d="M365,1172C400,1150 412,1120 415,1060L420,900C425,820 460,770 525,740C430,700 365,640 365,540C365,380 520,235 740,230C860,228 960,290 1010,380C1060,290 1160,238 1290,240C1490,244 1640,380 1640,540V1080C1642,1130 1660,1150 1685,1172ZM920,675H700C610,672 565,610 568,540C572,460 660,418 740,418C850,418 920,480 920,565ZM1100,675V610C1105,490 1190,418 1290,418C1400,418 1455,520 1472,675ZM920,830H680C625,835 610,880 605,950L582,1172H920ZM1112,830H1462V1172H1112Z"/></g>
<g font-size="43.5" fill="#15284b">
<text x="2892.5" y="3565" textLength="177" lengthAdjust="spacingAndGlyphs">research</text>
<text x="2892.5" y="3603" textLength="182.5" lengthAdjust="spacingAndGlyphs">affiliates</text>
</g>
<text x="3075.5" y="3542" font-size="7" font-weight="bold" fill="#15284b">TM</text>
</svg></body></html>
